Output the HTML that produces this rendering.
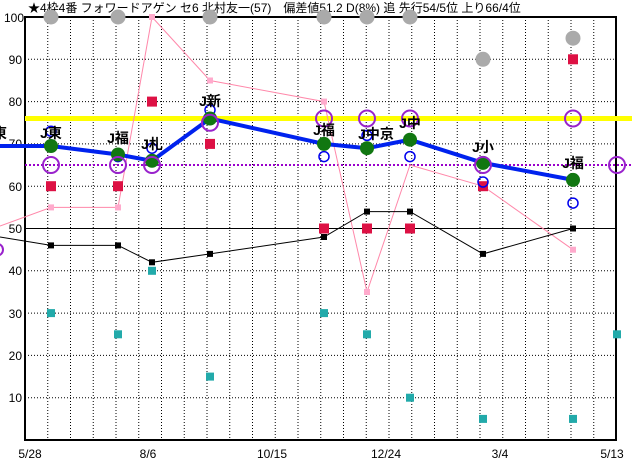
<!DOCTYPE html>
<html><head><meta charset="utf-8"><style>
html,body{margin:0;padding:0;background:#fff;}
svg{display:block;font-family:"Liberation Sans","Noto Sans CJK JP",sans-serif;}
</style></head><body>
<svg width="632" height="460" viewBox="0 0 632 460" xmlns="http://www.w3.org/2000/svg">
<rect width="632" height="460" fill="#fff"/>
<!-- grid -->
<path d="M47.75 17V440M70.5 17V440M93.25 17V440M116 17V440M138.75 17V440M161.5 17V440M184.25 17V440M207 17V440M229.75 17V440M252.5 17V440M275.25 17V440M298 17V440M320.75 17V440M343.5 17V440M366.25 17V440M389 17V440M411.75 17V440M434.5 17V440M457.25 17V440M480 17V440M502.75 17V440M525.5 17V440M548.25 17V440M571 17V440M593.75 17V440" stroke="#000" stroke-width="1" stroke-dasharray="1,2"/>
<path d="M25 59.3H616M25 101.6H616M25 143.9H616M25 186.2H616M25 270.8H616M25 313.1H616M25 355.4H616M25 397.7H616" stroke="#000" stroke-width="1" stroke-dasharray="1,2"/>
<line x1="25" y1="228.5" x2="616" y2="228.5" stroke="#000" stroke-width="1"/>
<rect x="25" y="17" width="591" height="423" fill="none" stroke="#000" stroke-width="2"/>
<!-- y labels -->
<g font-size="12" fill="#000" text-anchor="end">
<text x="24" y="22">100</text><text x="22" y="64">90</text><text x="22" y="106">80</text><text x="22" y="148">70</text><text x="22" y="191">60</text><text x="22" y="233">50</text><text x="22" y="275">40</text><text x="22" y="318">30</text><text x="22" y="360">20</text><text x="22" y="402">10</text>
</g>
<g font-size="12" fill="#000" text-anchor="middle">
<text x="30" y="458">5/28</text><text x="148" y="458">8/6</text><text x="272" y="458">10/15</text><text x="386" y="458">12/24</text><text x="500" y="458">3/4</text><text x="612" y="458">5/13</text>
</g>
<text x="28" y="12" font-size="12" fill="#000">★4枠4番 フォワードアゲン セ6 北村友一(57)　偏差値51.2 D(8%) 追 先行54/5位 上り66/4位</text>
<!-- gray circles -->
<g fill="#aaa">
<circle cx="51" cy="17" r="7.5"/><circle cx="118" cy="17" r="7.5"/><circle cx="210" cy="17" r="7.5"/><circle cx="324" cy="17" r="7.5"/><circle cx="367" cy="17" r="7.5"/><circle cx="410" cy="17" r="7.5"/><circle cx="483" cy="59.3" r="7.5"/><circle cx="573" cy="38.2" r="7.5"/>
</g>
<!-- yellow & purple dotted -->
<line x1="25" y1="118.5" x2="632" y2="118.5" stroke="#ffff00" stroke-width="5"/>
<line x1="25" y1="165" x2="632" y2="165" stroke="#9900cc" stroke-width="2" stroke-dasharray="2,2"/>
<!-- pink line -->
<polyline points="0,226 51,207.4 118,207.4 152,17 210,80.5 324,101.6 367,292 410,165 483,186.2 573,249.7" fill="none" stroke="#ff88aa" stroke-width="1"/>
<g fill="#ffaacc">
<rect x="48" y="204.4" width="6" height="6"/><rect x="115" y="204.4" width="6" height="6"/><rect x="149" y="14" width="6" height="6"/><rect x="207" y="77.5" width="6" height="6"/><rect x="321" y="98.6" width="6" height="6"/><rect x="364" y="289" width="6" height="6"/><rect x="570" y="246.7" width="6" height="6"/>
</g>
<!-- black line -->
<polyline points="0,237 51,245.4 118,245.4 152,262.3 210,253.9 324,237 367,211.6 410,211.6 483,253.9 573,228.5" fill="none" stroke="#000" stroke-width="1"/>
<g fill="#000">
<rect x="48" y="242.4" width="6" height="6"/><rect x="115" y="242.4" width="6" height="6"/><rect x="149" y="259.3" width="6" height="6"/><rect x="207" y="250.9" width="6" height="6"/><rect x="321" y="234" width="6" height="6"/><rect x="364" y="208.6" width="6" height="6"/><rect x="407" y="208.6" width="6" height="6"/><rect x="480" y="250.9" width="6" height="6"/><rect x="570" y="225.5" width="6" height="6"/>
</g>
<!-- red squares -->
<g fill="#dd1144">
<rect x="46" y="181.2" width="10" height="10"/><rect x="113" y="181.2" width="10" height="10"/><rect x="147" y="96.6" width="10" height="10"/><rect x="205" y="138.9" width="10" height="10"/><rect x="319" y="223.5" width="10" height="10"/><rect x="362" y="223.5" width="10" height="10"/><rect x="405" y="223.5" width="10" height="10"/><rect x="478" y="181.2" width="10" height="10"/><rect x="568" y="54.3" width="10" height="10"/>
</g>
<!-- teal squares -->
<g fill="#22aaaa">
<rect x="47" y="309.1" width="8" height="8"/><rect x="114" y="330.3" width="8" height="8"/><rect x="148" y="266.8" width="8" height="8"/><rect x="206" y="372.6" width="8" height="8"/><rect x="320" y="309.1" width="8" height="8"/><rect x="363" y="330.3" width="8" height="8"/><rect x="406" y="393.7" width="8" height="8"/><rect x="479" y="414.9" width="8" height="8"/><rect x="569" y="414.9" width="8" height="8"/><rect x="613" y="330.3" width="8" height="8"/>
</g>
<!-- blue small circles -->
<g fill="none" stroke="#0000ee" stroke-width="1.5">
<circle cx="51" cy="131.2" r="5"/><circle cx="118" cy="156.6" r="5"/><circle cx="152" cy="148.2" r="5"/><circle cx="210" cy="110" r="5"/><circle cx="324" cy="156.6" r="5"/><circle cx="367" cy="135.4" r="5"/><circle cx="410" cy="156.6" r="5"/><circle cx="483" cy="182" r="5"/><circle cx="573" cy="203.1" r="5"/>
</g>
<!-- blue thick line -->
<polyline points="0,146 51,146 118,154.5 152,160.8 210,118.5 324,143.9 367,148.2 410,139.7 483,162.9 573,179.9" fill="none" stroke="#0022ee" stroke-width="4"/>
<g fill="#117711">
<circle cx="51" cy="146" r="7"/><circle cx="118" cy="154.5" r="7"/><circle cx="152" cy="160.8" r="7"/><circle cx="210" cy="118.5" r="7"/><circle cx="324" cy="143.9" r="7"/><circle cx="367" cy="148.2" r="7"/><circle cx="410" cy="139.7" r="7"/><circle cx="483" cy="162.9" r="7"/><circle cx="573" cy="179.9" r="7"/>
</g>
<!-- purple circles -->
<g fill="none" stroke="#9922cc" stroke-width="2">
<circle cx="51" cy="165" r="8"/><circle cx="118" cy="165" r="8"/><circle cx="152" cy="165" r="8"/><circle cx="210" cy="122.8" r="8"/><circle cx="324" cy="118.5" r="8"/><circle cx="367" cy="118.5" r="8"/><circle cx="410" cy="118.5" r="8"/><circle cx="483" cy="165" r="8"/><circle cx="573" cy="118.5" r="8"/><circle cx="617" cy="165" r="8"/><circle cx="-3" cy="249.7" r="6"/>
</g>
<!-- labels -->
<g font-size="14" font-weight="bold" fill="#000" text-anchor="middle">
<text x="0" y="138">東</text>
<text x="51" y="138">J東</text><text x="118" y="143">J福</text><text x="152" y="149">J札</text><text x="210" y="106">J新</text><text x="324" y="135">J福</text><text x="376" y="139">J中京</text><text x="410" y="128">J中</text><text x="483" y="152">J小</text><text x="573" y="168">J福</text>
</g>
</svg>
</body></html>
